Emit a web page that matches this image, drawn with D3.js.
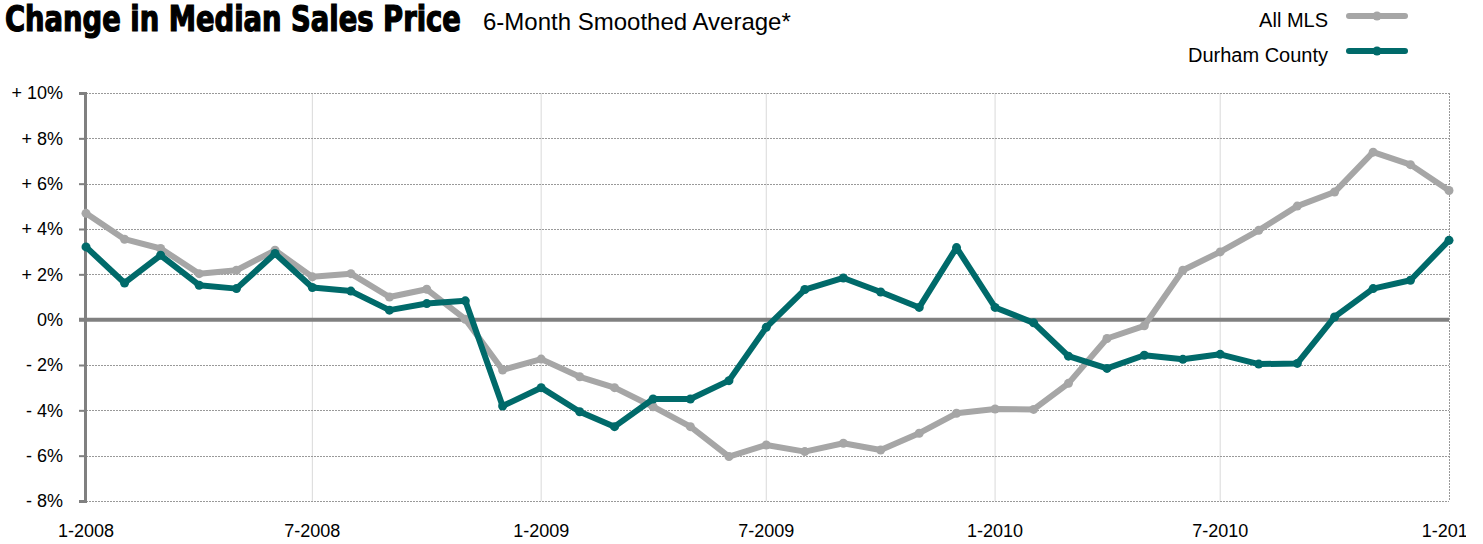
<!DOCTYPE html>
<html>
<head>
<meta charset="utf-8">
<script src="https://cdnjs.cloudflare.com/ajax/libs/d3/7.8.5/d3.min.js"></script>
<style>
    html, body { margin: 0; padding: 0; background: #fff; }
    svg { display: block; font-family: "Liberation Sans", Arial, Helvetica, sans-serif; }
    .title { font-family: "Liberation Sans Narrow", "DejaVu Sans Condensed", sans-serif; font-weight: bold; }
</style>
</head>
<body>
<div id="chart"></div>
<script>
// Meses (eje X)
const months = [
    "2008-01", "2008-02", "2008-03", "2008-04", "2008-05", "2008-06",
    "2008-07", "2008-08", "2008-09", "2008-10", "2008-11", "2008-12",
    "2009-01", "2009-02", "2009-03", "2009-04", "2009-05", "2009-06",
    "2009-07", "2009-08", "2009-09", "2009-10", "2009-11", "2009-12",
    "2010-01", "2010-02", "2010-03", "2010-04", "2010-05", "2010-06",
    "2010-07", "2010-08", "2010-09", "2010-10", "2010-11", "2010-12",
    "2011-01"
];

// Cambio porcentual (media móvil de 6 meses)
const allMLS = [
    4.69, 3.55, 3.14, 2.03, 2.18, 3.06, 1.89, 2.03, 1.00, 1.34, 0.02, -2.22,
    -1.74, -2.52, -3.00, -3.84, -4.72, -6.04, -5.53, -5.82, -5.45, -5.75, -5.01, -4.13,
    -3.94, -3.96, -2.81, -0.83, -0.27, 2.18, 2.99, 3.94, 5.01, 5.63, 7.39, 6.84,
    5.70
];
const durham = [
    3.21, 1.62, 2.84, 1.52, 1.37, 2.92, 1.42, 1.26, 0.42, 0.71, 0.83, -3.81,
    -3.00, -4.06, -4.72, -3.50, -3.50, -2.69, -0.34, 1.33, 1.84, 1.22, 0.54, 3.18,
    0.54, -0.14, -1.61, -2.15, -1.57, -1.75, -1.53, -1.96, -1.93, 0.12, 1.37, 1.74,
    3.50
];

const xTickLabels = ["1-2008", "7-2008", "1-2009", "7-2009", "1-2010", "7-2010", "1-2011"];
const yTicks = [10, 8, 6, 4, 2, 0, -2, -4, -6, -8];

const series = [
    { name: "All MLS", values: allMLS, color: "#a6a6a6" },
    { name: "Durham County", values: durham, color: "#006a6a" }
];

const width = 1483;
const height = 544;
const parseMonth = d3.timeParse("%Y-%m");
const dates = months.map(parseMonth);

const svg = d3.select("#chart")
    .append("svg")
    .attr("width", width)
    .attr("height", height);

const x = d3.scaleTime()
    .domain(d3.extent(dates))
    .range([86, 1449]);

const y = d3.scaleLinear()
    .domain([-8, 10])
    .range([501, 93]);

function formatPct(v) {
    if (v > 0) return "+ " + v + "%";
    if (v < 0) return "- " + Math.abs(v) + "%";
    return "0%";
}

// Fechas de las etiquetas del eje X (cada 6 meses)
const xTickDates = xTickLabels.map(l => {
    const [m, yr] = l.split("-");
    return new Date(+yr, +m - 1, 1);
});

// Rejilla vertical
svg.append("g")
    .selectAll("line")
    .data(xTickDates.slice(1, -1))
    .enter()
    .append("line")
    .attr("x1", d => x(d)).attr("x2", d => x(d))
    .attr("y1", y(10)).attr("y2", y(-8))
    .attr("stroke", "#d9d9d9")
    .attr("stroke-width", 1);

// Borde derecho punteado
svg.append("line")
    .attr("x1", x(xTickDates[xTickDates.length - 1]) + 0.5)
    .attr("x2", x(xTickDates[xTickDates.length - 1]) + 0.5)
    .attr("y1", y(10)).attr("y2", y(-8))
    .attr("stroke", "#999")
    .attr("stroke-dasharray", "2,1");

// Rejilla horizontal punteada
svg.append("g")
    .selectAll("line")
    .data(yTicks.filter(v => v !== 0))
    .enter()
    .append("line")
    .attr("x1", 86).attr("x2", 1449)
    .attr("y1", d => Math.round(y(d)) + 0.5)
    .attr("y2", d => Math.round(y(d)) + 0.5)
    .attr("stroke", "#999")
    .attr("stroke-dasharray", "2,1");

// Eje Y
const yAxis = svg.append("g")
    .attr("transform", "translate(85,0)")
    .call(d3.axisLeft(y).tickValues(yTicks).tickSize(6).tickPadding(16).tickFormat(formatPct));
yAxis.select(".domain").attr("stroke", "#808080").attr("stroke-width", 3);
yAxis.selectAll(".tick line").attr("stroke", "#808080").attr("stroke-width", 2);
yAxis.selectAll(".tick text")
    .attr("fill", "#000")
    .style("font-size", "18px")
    .style("font-family", "'Liberation Sans', Arial, sans-serif");

// Línea del cero
svg.append("line")
    .attr("x1", 79).attr("x2", 1449)
    .attr("y1", y(0)).attr("y2", y(0))
    .attr("stroke", "#808080")
    .attr("stroke-width", 4);

// Etiquetas del eje X (la última queda cortada en el borde)
svg.append("defs").append("clipPath")
    .attr("id", "xclip")
    .append("rect")
    .attr("x", 0).attr("y", 505).attr("width", 1466).attr("height", 40);

svg.append("g")
    .attr("clip-path", "url(#xclip)")
    .selectAll("text")
    .data(xTickLabels)
    .enter()
    .append("text")
    .attr("x", (d, i) => x(xTickDates[i]))
    .attr("y", 537)
    .attr("text-anchor", "middle")
    .style("font-size", "18px")
    .text(d => d);

// Series
const line = d3.line()
    .x((d, i) => x(dates[i]))
    .y(d => y(d));

series.forEach(s => {
    const g = svg.append("g");
    g.append("path")
        .datum(s.values)
        .attr("d", line)
        .attr("fill", "none")
        .attr("stroke", s.color)
        .attr("stroke-width", 6)
        .attr("stroke-linejoin", "round")
        .attr("stroke-linecap", "round");
    g.selectAll("circle")
        .data(s.values)
        .enter()
        .append("circle")
        .attr("cx", (d, i) => x(dates[i]))
        .attr("cy", d => y(d))
        .attr("r", 4.5)
        .attr("fill", s.color);
});

// Título (escalado horizontalmente para ocupar el mismo ancho)
const title = svg.append("text")
    .attr("class", "title")
    .style("font-size", "35px")
    .attr("stroke", "#000")
    .attr("stroke-width", 1.2)
    .text("Change in Median Sales Price");
const titleW = title.node().getComputedTextLength();
title.attr("transform", `translate(5,31) scale(${456 / titleW},1)`);

svg.append("text")
    .attr("x", 483)
    .attr("y", 30)
    .style("font-size", "24px")
    .text("6-Month Smoothed Average*");

// Leyenda
const legend = svg.append("g");
const legendRows = [27, 62];
series.forEach((s, i) => {
    const ly = legendRows[i] - 11;
    legend.append("text")
        .attr("x", 1328)
        .attr("y", legendRows[i])
        .attr("text-anchor", "end")
        .style("font-size", "20px")
        .text(s.name);
    legend.append("line")
        .attr("x1", 1349).attr("x2", 1405)
        .attr("y1", ly).attr("y2", ly)
        .attr("stroke", s.color)
        .attr("stroke-width", 6)
        .attr("stroke-linecap", "round");
    legend.append("circle")
        .attr("cx", 1377).attr("cy", ly)
        .attr("r", 4.5)
        .attr("fill", s.color);
});
</script>
</body>
</html>
